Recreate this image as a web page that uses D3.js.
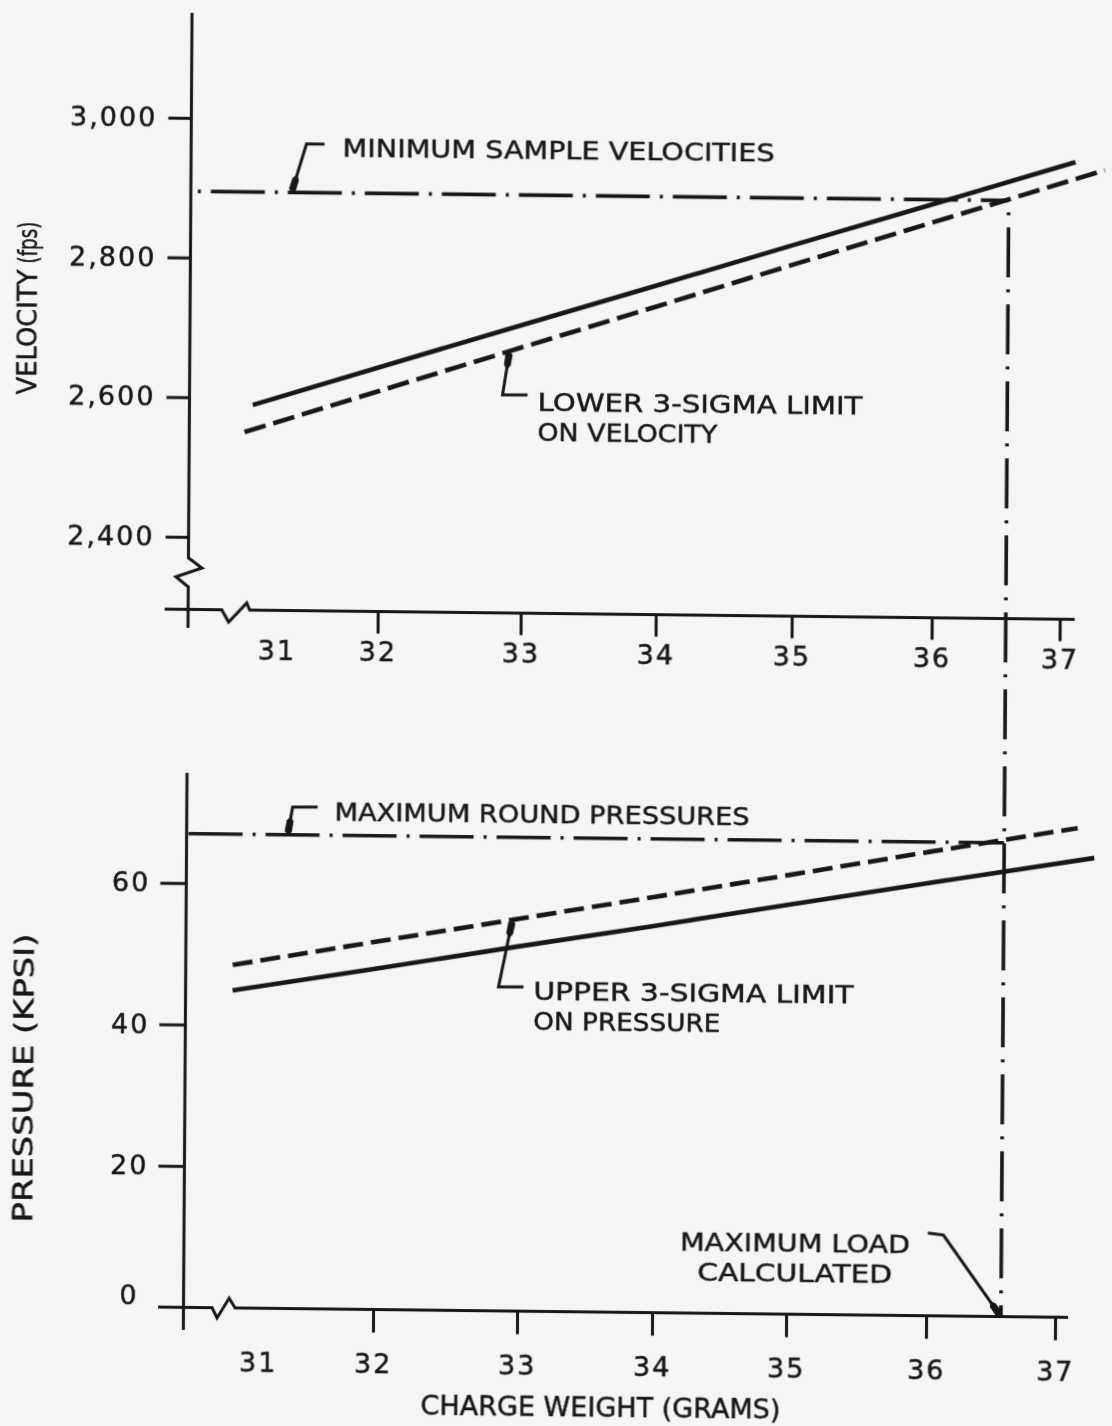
<!DOCTYPE html>
<html>
<head>
<meta charset="utf-8">
<script src="https://cdn.jsdelivr.net/npm/d3@7"></script>
<style>
  html, body { margin: 0; padding: 0; background: #f5f5f5; }
  svg { display: block; }
  text { font-family: "DejaVu Sans", sans-serif; fill: #161616; stroke: #161616; stroke-width: 0.45px; }
</style>
</head>
<body>
<svg id="chart" width="1112" height="1426"></svg>
<script>
// Charge weight axis (grams)
const chargeTicks = [31, 32, 33, 34, 35, 36, 37];

// Velocity panel (fps)
const velocityTicks = [2400, 2600, 2800, 3000];
const velocityWeights = [30.75, 32, 33, 34, 35, 36, 37.1];
const meanVelocity = [2590, 2646, 2709, 2768, 2828, 2889, 2951];
const lowerVelocityWeights = [30.67, 32, 33, 34, 35, 36, 37.33];
const lowerSigmaVelocity = [2551, 2612, 2677, 2738, 2800, 2863, 2940];
const minimumSampleVelocity = 2895;

// Pressure panel (kpsi)
const pressureTicks = [0, 20, 40, 60];
const pressureWeights = [30.76, 32, 33, 34, 35, 36, 37.28];
const meanPressure = [44.9, 48.2, 51.6, 54.7, 57.9, 61.2, 65.0];
const upperPressureWeights = [30.76, 32, 33, 34, 35, 36, 37.15];
const upperSigmaPressure = [48.5, 52.0, 55.5, 58.8, 62.1, 65.6, 69.2];
const maximumRoundPressure = 67;

// Charge weight where the lower velocity limit meets the minimum sample velocity
const maximumLoad = 36.58;

const ink = "#151515";
const svg = d3.select("#chart");
svg.append("rect").attr("width", 1112).attr("height", 1426).attr("fill", "#f5f5f5");

const defs = svg.append("defs");
defs.append("filter").attr("id", "soft")
  .append("feGaussianBlur").attr("stdDeviation", 0.55);

// the printed figure sits slightly askew on the page
const root = svg.append("g")
  .attr("transform", "matrix(1,0.0113,-0.0066,1,4.71,-6.28)")
  .attr("filter", "url(#soft)");

// ---- layout ----
const axisX = 187.4;
const topAxisY = 613.5;
const botAxisY = 1311.5;

const xTop = d3.scaleLinear().domain(chargeTicks).range([276, 377, 520, 655, 791, 931, 1059]);
const xBot = d3.scaleLinear().domain(chargeTicks).range([262, 377, 521, 656, 790, 930, 1059]);
const yTop = d3.scaleLinear().domain([2400, 3000]).range([541, 122]);
const yBot = d3.scaleLinear().domain([0, 60]).range([botAxisY, 887.2]);

const interp = (xs, ys, v) => d3.scaleLinear().domain(xs).range(ys)(v);

// ---- axis lines, with scale breaks ----
const axisLine = (pts) => root.append("path")
  .attr("d", d3.line()(pts))
  .attr("fill", "none").attr("stroke", ink).attr("stroke-width", 3)
  .attr("stroke-linejoin", "miter");

axisLine([[axisX, 17], [axisX, 562], [axisX + 13.6, 572], [axisX - 12.4, 581], [axisX, 591], [axisX, 632]]);
axisLine([[164, topAxisY], [221, topAxisY], [228, topAxisY + 12.3], [246, topAxisY - 7], [249, topAxisY], [1074, topAxisY]]);
axisLine([[axisX, 777], [axisX, 1334]]);
axisLine([[162, botAxisY], [216, botAxisY], [221, botAxisY + 10.2], [233, botAxisY - 9.7], [239, botAxisY], [1072, botAxisY]]);

function styleAxis(g) {
  g.select(".domain").remove();
  g.attr("color", ink).attr("font-family", null).attr("font-size", null);
  g.selectAll("line").attr("stroke-width", 3);
  g.selectAll("text")
    .style("font-family", "'DejaVu Sans', sans-serif")
    .style("font-size", "27px")
    .style("letter-spacing", "2px")
    .attr("fill", "#161616");
}

// velocity ticks
root.append("g").attr("transform", `translate(${axisX},0)`)
  .call(d3.axisLeft(yTop).tickValues(velocityTicks).tickSize(23).tickPadding(11).tickFormat(d3.format(",")))
  .call(styleAxis);

// pressure ticks
const pAxis = root.append("g").attr("transform", `translate(${axisX},0)`)
  .call(d3.axisLeft(yBot).tickValues(pressureTicks).tickSize(26).tickPadding(10).tickFormat(d3.format("d")))
  .call(styleAxis);
pAxis.selectAll(".tick").filter(d => d === 0).select("line").remove();
pAxis.selectAll(".tick").filter(d => d === 0).select("text").attr("dx", -9).attr("dy", "-0.1em");

// charge weight ticks, both panels
const tAxis = root.append("g").attr("transform", `translate(0,${topAxisY})`)
  .call(d3.axisBottom(xTop).tickValues(chargeTicks).tickSize(22).tickPadding(8).tickFormat(d3.format("d")))
  .call(styleAxis);
tAxis.selectAll(".tick").filter(d => d === 31).select("line").remove();

const bAxis = root.append("g").attr("transform", `translate(0,${botAxisY})`)
  .call(d3.axisBottom(xBot).tickValues(chargeTicks).tickSize(23).tickPadding(21).tickFormat(d3.format("d")))
  .call(styleAxis);
bAxis.selectAll(".tick").filter(d => d === 31).select("line").remove();

// ---- curves ----
function curve(xs, ys, xScale, yScale, dash) {
  root.append("path")
    .datum(xs.map((x, i) => [x, ys[i]]))
    .attr("d", d3.line().x(d => xScale(d[0])).y(d => yScale(d[1])))
    .attr("fill", "none").attr("stroke", ink).attr("stroke-width", 4.6)
    .attr("stroke-dasharray", dash)
    .attr("stroke-linecap", "butt");
}
curve(velocityWeights, meanVelocity, xTop, yTop, null);
curve(lowerVelocityWeights, lowerSigmaVelocity, xTop, yTop, "22,8");
curve(pressureWeights, meanPressure, xBot, yBot, null);
curve(upperPressureWeights, upperSigmaPressure, xBot, yBot, "20,8");

// ---- dash-dot limit lines ----
const dashDot = "54,10,3,10";
root.append("line")
  .attr("x1", axisX).attr("x2", xTop(maximumLoad))
  .attr("y1", yTop(minimumSampleVelocity)).attr("y2", yTop(minimumSampleVelocity))
  .attr("stroke", ink).attr("stroke-width", 3.6)
  .attr("stroke-dasharray", dashDot).attr("stroke-dashoffset", 57);
root.append("line")
  .attr("x1", axisX + 2).attr("x2", xBot(maximumLoad))
  .attr("y1", yBot(maximumRoundPressure)).attr("y2", yBot(maximumRoundPressure))
  .attr("stroke", ink).attr("stroke-width", 3.6)
  .attr("stroke-dasharray", dashDot);
root.append("line")
  .attr("x1", xTop(maximumLoad)).attr("y1", yTop(minimumSampleVelocity))
  .attr("x2", xBot(maximumLoad)).attr("y2", botAxisY)
  .attr("stroke", ink).attr("stroke-width", 3.6)
  .attr("stroke-dasharray", "50,12,3,12").attr("stroke-dashoffset", 50);

// ---- callouts ----
function blob(tip, next) {
  const dx = next[0] - tip[0], dy = next[1] - tip[1];
  const L = Math.hypot(dx, dy), ux = dx / L, uy = dy / L, nx = -uy, ny = ux;
  const p = (a, b) => [tip[0] + ux * a + nx * b, tip[1] + uy * a + ny * b];
  root.append("path")
    .attr("d", d3.line().curve(d3.curveLinearClosed)([p(0, 0), p(3, 3.6), p(14, 3.4), p(19, 0), p(14, -3.4), p(3, -3.6)]))
    .attr("fill", ink);
}
function callout(tip, bends, lines, textPos, anchor) {
  const pts = [tip].concat(bends.map(b => [tip[0] + b[0], tip[1] + b[1]]));
  root.append("path").attr("d", d3.line()(pts))
    .attr("fill", "none").attr("stroke", ink).attr("stroke-width", 3);
  blob(tip, pts[1]);
  lines.forEach((l, i) => {
    root.append("text")
      .attr("x", tip[0] + textPos[0]).attr("y", tip[1] + textPos[1] + i * textPos[2])
      .attr("text-anchor", anchor)
      .attr("font-size", 25)
      .attr("textLength", l.w).attr("lengthAdjust", "spacingAndGlyphs")
      .text(l.t);
  });
}

callout([xTop(31.12), yTop(minimumSampleVelocity)], [[14.6, -48.5], [32.6, -48.7]],
  [{ t: "MINIMUM SAMPLE VELOCITIES", w: 432 }], [50.7, -35.9, 0], "start");

const lowTipW = 32.91;
callout([xTop(lowTipW), yTop(interp(lowerVelocityWeights, lowerSigmaVelocity, lowTipW))],
  [[-6.7, 43.9], [18.3, 43.6]],
  [{ t: "LOWER 3-SIGMA LIMIT", w: 325 }, { t: "ON VELOCITY", w: 180 }], [28.3, 59.5, 29.6], "start");

callout([xBot(31.23), yBot(maximumRoundPressure)], [[4.8, -27.7], [29.8, -28]],
  [{ t: "MAXIMUM ROUND PRESSURES", w: 415 }], [46.8, -14.3, 0], "start");

const upTipW = 32.95;
callout([xBot(upTipW), yBot(interp(upperPressureWeights, upperSigmaPressure, upTipW))],
  [[-13.5, 67.3], [11.5, 67]],
  [{ t: "UPPER 3-SIGMA LIMIT", w: 320 }, { t: "ON PRESSURE", w: 187 }], [21.5, 80, 29.6], "start");

callout([xBot(maximumLoad), botAxisY], [[-58, -80.9], [-73.6, -82.7]],
  [{ t: "MAXIMUM LOAD", w: 230 }, { t: "CALCULATED", w: 195 }], [-206.4, -62.4, 30.2], "middle");

// ---- axis titles ----
root.append("text")
  .attr("transform", "translate(34.2,400.5) rotate(-90)")
  .attr("font-size", 27)
  .attr("textLength", 125).attr("lengthAdjust", "spacingAndGlyphs")
  .text("VELOCITY");
root.append("text")
  .attr("transform", "translate(34.2,269.5) rotate(-90)")
  .attr("font-size", 27)
  .attr("textLength", 42).attr("lengthAdjust", "spacingAndGlyphs")
  .text("(fps)");

root.append("text")
  .attr("transform", "translate(35.4,1084) rotate(-90)")
  .attr("text-anchor", "middle").attr("font-size", 26)
  .attr("textLength", 289).attr("lengthAdjust", "spacingAndGlyphs")
  .text("PRESSURE (KPSI)");
root.append("text")
  .attr("x", 605).attr("y", 1416.4)
  .attr("text-anchor", "middle").attr("font-size", 26)
  .attr("textLength", 360).attr("lengthAdjust", "spacingAndGlyphs")
  .text("CHARGE WEIGHT (GRAMS)");
</script>
</body>
</html>
